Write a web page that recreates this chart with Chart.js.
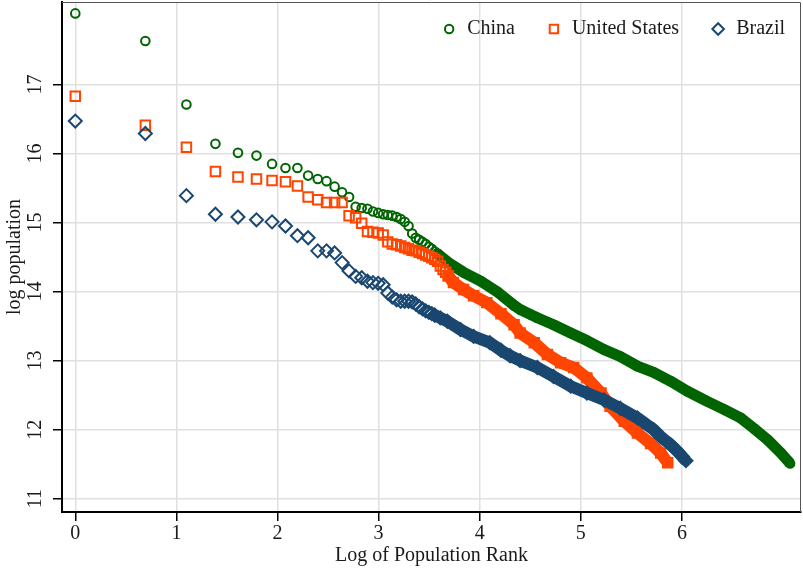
<!DOCTYPE html>
<html>
<head>
<meta charset="utf-8">
<script src="https://cdn.jsdelivr.net/npm/chart.js@4.4.1/dist/chart.umd.min.js"></script>
<style>
  html, body { margin: 0; padding: 0; background: #fff; }
</style>
</head>
<body>
<canvas id="chart" width="803" height="569"></canvas>
<script>
/* global Chart */

// ── Data (log rank / log population) ───────────────────────────────────────

const xTicks = [0, 1, 2, 3, 4, 5, 6];
const yTicks = [11, 12, 13, 14, 15, 16, 17];

// log of rank 1..40 (shared by the sparse head of every series)
const headLogRank = [
  0, 0.693, 1.099, 1.386, 1.609, 1.792, 1.946, 2.079, 2.197, 2.303,
  2.398, 2.485, 2.565, 2.639, 2.708, 2.773, 2.833, 2.890, 2.944, 2.996,
  3.045, 3.091, 3.135, 3.178, 3.219, 3.258, 3.296, 3.332, 3.367, 3.401,
  3.434, 3.466, 3.497, 3.526, 3.555, 3.584, 3.611, 3.638, 3.664, 3.689,
];

const chinaHead = [
  18.03, 17.63, 16.71, 16.14, 16.01, 15.97, 15.85, 15.79, 15.79, 15.68,
  15.63, 15.60, 15.52, 15.44, 15.37, 15.23, 15.21, 15.20, 15.16, 15.14,
  15.12, 15.11, 15.10, 15.08, 15.05, 15.01, 14.95, 14.84, 14.78, 14.75,
  14.72, 14.69, 14.65, 14.62, 14.58, 14.55,
];
const usHead = [
  16.83, 16.41, 16.09, 15.74, 15.66, 15.63, 15.61, 15.59, 15.53, 15.37,
  15.33, 15.29, 15.29, 15.29, 15.10, 15.07, 14.99, 14.87, 14.86, 14.85,
  14.82, 14.72, 14.69, 14.68, 14.66, 14.64, 14.62, 14.60, 14.59, 14.57,
  14.55, 14.53, 14.51, 14.49, 14.47, 14.44, 14.37, 14.32, 14.28, 14.23,
];
const brazilHead = [
  16.47, 16.29, 15.39, 15.12, 15.08, 15.04, 15.01, 14.95, 14.81, 14.78,
  14.59, 14.59, 14.56, 14.42, 14.30, 14.22, 14.20, 14.15, 14.13, 14.12,
  14.10, 13.98, 13.92, 13.88, 13.86, 13.86, 13.86, 13.85, 13.82, 13.78,
  13.75, 13.72, 13.70, 13.68, 13.66,
];

// dense tails: the markers merge into a band, sampled along the band
const chinaTailX = [3.58, 3.71, 3.84, 4.01, 4.17, 4.34, 4.40, 4.50, 4.57, 4.73, 4.90, 5.06, 5.23,
  5.39, 5.56, 5.72, 5.89, 6.05, 6.25, 6.42, 6.58, 6.71, 6.85, 6.98, 7.07];
const chinaTailY = [14.55, 14.40, 14.28, 14.15, 14.00, 13.80, 13.74, 13.67, 13.62, 13.52, 13.40, 13.29, 13.16,
  13.06, 12.92, 12.83, 12.70, 12.56, 12.41, 12.29, 12.17, 12.02, 11.85, 11.66, 11.51];

const usTailX = [3.69, 3.74, 3.84, 3.94, 4.07, 4.21, 4.34, 4.40, 4.54, 4.67, 4.80, 4.93, 5.06,
  5.20, 5.29, 5.43, 5.56, 5.69, 5.79, 5.86];
const usTailY = [14.23, 14.13, 14.03, 13.94, 13.84, 13.68, 13.52, 13.40, 13.26, 13.09, 12.97, 12.90, 12.75,
  12.53, 12.34, 12.12, 11.95, 11.80, 11.66, 11.52];

const brazilTailX = [3.555, 3.61, 3.68, 3.81, 3.94, 4.10, 4.21, 4.30, 4.40, 4.57, 4.73, 4.90, 5.06,
  5.23, 5.39, 5.56, 5.72, 5.79, 5.89, 5.96, 6.04];
const brazilTailY = [13.66, 13.62, 13.57, 13.45, 13.35, 13.26, 13.15, 13.07, 13.00, 12.90, 12.77, 12.63, 12.53,
  12.43, 12.31, 12.17, 12.00, 11.90, 11.78, 11.68, 11.55];

// ── Styling ────────────────────────────────────────────────────────────────

const FONT_FAMILY = '"Liberation Serif", "DejaVu Serif", serif';
const TEXT = '#1a1a1a';
const GREEN = '#006400';
const ORANGE = '#ff4500';
const NAVY = '#1a476f';

const head = (ys) => ys.map((y, i) => ({ x: headLogRank[i], y }));
const tail = (xs, ys) => xs.map((x, i) => ({ x, y: ys[i] }));

function series(label, data, color, style, radius, order) {
  return {
    label, data, order,
    pointStyle: style,
    pointRadius: radius,
    pointBorderWidth: 2,
    pointBorderColor: color,
    pointBackgroundColor: 'rgba(0,0,0,0)',
    showLine: false,
  };
}

// the merged tail: a thick line with solid markers so its ends keep the marker shape
function band(data, color, style, radius, order, width) {
  return {
    label: '', data, order,
    showLine: true,
    borderColor: color,
    borderWidth: width,
    borderCapStyle: 'butt',
    borderJoinStyle: 'round',
    tension: 0,
    pointStyle: style,
    pointRadius: radius,
    pointBorderWidth: 2,
    pointBorderColor: color,
    pointBackgroundColor: color,
  };
}

// ── Plugins ────────────────────────────────────────────────────────────────

// y tick labels are drawn turned on their side
const sideYTicks = {
  id: 'sideYTicks',
  afterDraw(chart) {
    const s = chart.scales.y;
    const ctx = chart.ctx;
    ctx.save();
    ctx.font = `20px ${FONT_FAMILY}`;
    ctx.fillStyle = TEXT;
    ctx.textAlign = 'center';
    ctx.textBaseline = 'middle';
    s.ticks.forEach(t => {
      ctx.save();
      ctx.translate(s.right - 26, s.getPixelForValue(t.value));
      ctx.rotate(-Math.PI / 2);
      ctx.fillText(String(t.value), 0, 0);
      ctx.restore();
    });
    ctx.restore();
  },
};

function marker(ctx, style, x, y) {
  ctx.beginPath();
  if (style === 'circle') {
    ctx.arc(x, y, 4.2, 0, Math.PI * 2);
  } else if (style === 'rect') {
    ctx.rect(x - 4.2, y - 4.2, 8.4, 8.4);
  } else {
    ctx.moveTo(x, y - 5.8); ctx.lineTo(x + 5.8, y);
    ctx.lineTo(x, y + 5.8); ctx.lineTo(x - 5.8, y);
    ctx.closePath();
  }
  ctx.stroke();
}

// legend sits inside the plot, top right
const insideLegend = {
  id: 'insideLegend',
  afterDraw(chart) {
    const ctx = chart.ctx;
    const area = chart.chartArea;
    const items = chart.data.datasets.filter(d => d.label);
    ctx.save();
    ctx.font = `20px ${FONT_FAMILY}`;
    ctx.textBaseline = 'middle';
    ctx.lineWidth = 2;
    let right = area.right - 16;
    const y = area.top + 27;
    for (let i = items.length - 1; i >= 0; i--) {
      const d = items[i];
      const left = right - ctx.measureText(d.label).width;
      ctx.fillStyle = TEXT;
      ctx.fillText(d.label, left, y);
      const cx = left - 18;
      ctx.strokeStyle = d.pointBorderColor;
      marker(ctx, d.pointStyle, cx, y);
      right = cx - 39;
    }
    ctx.restore();
  },
};

// thin frame on the top and right of the plot
const frame = {
  id: 'frame',
  afterDraw(chart) {
    const { ctx, chartArea: a } = chart;
    ctx.save();
    ctx.strokeStyle = '#555';
    ctx.lineWidth = 1;
    ctx.beginPath();
    ctx.moveTo(a.left, a.top + 0.5);
    ctx.lineTo(a.right - 0.5, a.top + 0.5);
    ctx.lineTo(a.right - 0.5, a.bottom);
    ctx.stroke();
    ctx.restore();
  },
};

// ── Chart ──────────────────────────────────────────────────────────────────

const gridOpts = {
  color: '#e0e0e0',
  lineWidth: 1.5,
  tickLength: 9,
  tickColor: '#000',
  tickWidth: 1.5,
};

new Chart(document.getElementById('chart'), {
  type: 'scatter',
  data: {
    datasets: [
      series('China', head(chinaHead), GREEN, 'circle', 4.3, 3),
      band(tail(chinaTailX, chinaTailY), GREEN, 'circle', 4.3, 3, 11),
      series('United States', head(usHead), ORANGE, 'rect', 6.7, 2),
      band(tail(usTailX, usTailY), ORANGE, 'rect', 6.7, 2, 12),
      series('Brazil', head(brazilHead), NAVY, 'rectRot', 6.5, 1),
      band(tail(brazilTailX, brazilTailY), NAVY, 'rectRot', 6.5, 1, 12),
    ],
  },
  options: {
    responsive: false,
    animation: false,
    events: [],
    layout: { autoPadding: false, padding: { top: 2, right: 2, bottom: 0, left: 0 } },
    plugins: {
      legend: { display: false },
      tooltip: { enabled: false },
    },
    scales: {
      x: {
        type: 'linear',
        min: -0.1315,
        max: 7.178,
        afterBuildTicks: s => { s.ticks = xTicks.map(v => ({ value: v })); },
        afterFit: s => { s.height = 57; },
        ticks: { font: { family: FONT_FAMILY, size: 20 }, color: TEXT, padding: 1, maxRotation: 0 },
        grid: gridOpts,
        border: { color: '#000', width: 2 },
        title: {
          display: true,
          text: 'Log of Population Rank',
          font: { family: FONT_FAMILY, size: 20 },
          color: TEXT,
          padding: { top: 0, bottom: 1 },
        },
      },
      y: {
        type: 'linear',
        min: 10.807,
        max: 18.195,
        afterBuildTicks: s => { s.ticks = yTicks.map(v => ({ value: v })); },
        afterFit: s => { s.width = 62; },
        ticks: { display: false },
        grid: gridOpts,
        border: { color: '#000', width: 2 },
        title: {
          display: true,
          text: 'log population',
          font: { family: FONT_FAMILY, size: 20 },
          color: TEXT,
          padding: { top: 3, bottom: 0 },
        },
      },
    },
  },
  plugins: [sideYTicks, insideLegend, frame],
});
</script>
</body>
</html>
